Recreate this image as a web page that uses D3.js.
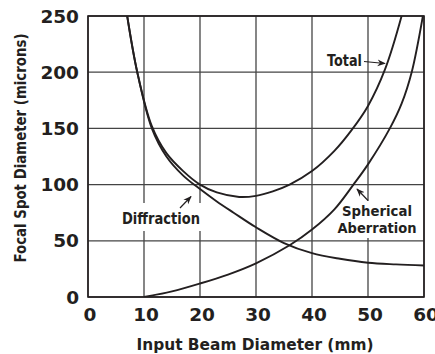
<!DOCTYPE html>
<html><head><meta charset="utf-8">
<script src="https://cdn.jsdelivr.net/npm/d3@7"></script>
<style>
html,body{margin:0;padding:0;background:#fff;}
svg{display:block;}
text{font-family:"DejaVu Sans",sans-serif;font-weight:bold;fill:#231f20;}
</style></head>
<body><svg id="c" width="435" height="354"></svg>
<script>
// ---- data ----
const xTicks = [0, 10, 20, 30, 40, 50, 60];
const yTicks = [0, 50, 100, 150, 200, 250];
const totalD = [7, 8.8, 11.4, 14, 17, 20, 23, 27, 30, 33, 36, 40, 44, 47, 50, 53, 56];
const totalV = [250, 200, 152, 128, 112, 100, 93, 89, 90, 94, 100, 112, 130, 148, 170, 202, 250];
const diffD = [7, 8.8, 11.4, 14, 17, 20, 23, 26, 30, 35, 40, 45, 50, 55, 60];
const diffV = [250, 200, 150, 125, 108, 96, 85, 75, 62, 48, 39, 34, 30.5, 29, 28];
const spherD = [10, 15, 20, 25, 30, 36, 40, 44, 47.4, 50, 53.9, 56, 57.8, 59.8];
const spherV = [0, 5, 12, 20, 30, 46, 60, 78, 100, 118, 150, 172, 200, 250];
const xTitle = "Input Beam Diameter (mm)";
const yTitle = "Focal Spot Diameter (microns)";

const svg = d3.select("#c");
const m = {left: 88, top: 16, right: 424, bottom: 297};
const x = d3.scaleLinear().domain([0, 60]).range([m.left, m.right]);
const y = d3.scaleLinear().domain([0, 250]).range([m.bottom, m.top]);

const defs = svg.append("defs");
defs.append("clipPath").attr("id", "clip").append("rect")
  .attr("x", m.left).attr("y", m.top).attr("width", m.right - m.left).attr("height", m.bottom - m.top);
defs.append("marker").attr("id", "arr").attr("viewBox", "0 0 10 10").attr("refX", 9).attr("refY", 5)
  .attr("markerWidth", 7).attr("markerHeight", 7).attr("orient", "auto-start-reverse")
  .append("path").attr("d", "M0,1 L10,5 L0,9 L3,5 Z").attr("fill", "#231f20");

// grid
const grid = svg.append("g");
grid.selectAll("line.v").data(xTicks).join("line")
  .attr("x1", d => x(d)).attr("x2", d => x(d)).attr("y1", m.top).attr("y2", m.bottom)
  .attr("stroke", "#444").attr("stroke-width", 1.3);
grid.selectAll("line.h").data(yTicks).join("line")
  .attr("x1", m.left).attr("x2", m.right).attr("y1", d => y(d)).attr("y2", d => y(d))
  .attr("stroke", "#444").attr("stroke-width", 1.3);
svg.append("rect").attr("x", m.left).attr("y", m.top).attr("width", m.right - m.left).attr("height", m.bottom - m.top)
  .attr("fill", "none").attr("stroke", "#231f20").attr("stroke-width", 1.6);

// label backgrounds
svg.append("rect").attr("x", 117).attr("y", 203).attr("width", 88).attr("height", 28).attr("fill", "#fff");
svg.append("rect").attr("x", 334).attr("y", 201).attr("width", 88).attr("height", 37).attr("fill", "#fff");

// curves
const line = d3.line().x(d => x(d[0])).y(d => y(d[1])).curve(d3.curveCatmullRom.alpha(0.5));
const curves = svg.append("g").attr("clip-path", "url(#clip)");
[[totalD, totalV], [diffD, diffV], [spherD, spherV]].forEach(([ds, vs]) => {
  curves.append("path").datum(ds.map((d, i) => [d, vs[i]])).attr("d", line)
    .attr("fill", "none").attr("stroke", "#231f20").attr("stroke-width", 1.9);
});

// axis tick labels
svg.append("g").selectAll("text").data(xTicks).join("text")
  .attr("x", d => x(d) + 2).attr("y", 321).attr("text-anchor", "middle")
  .attr("font-size", 18.5).text(d => d);
svg.append("g").selectAll("text").data(yTicks).join("text")
  .attr("x", 79).attr("y", d => y(d)).attr("dy", "0.36em").attr("text-anchor", "end")
  .attr("font-size", 18.5).text(d => d);

// axis titles
svg.append("text").attr("x", 255).attr("y", 350).attr("text-anchor", "middle")
  .attr("font-size", 15).attr("textLength", 237).attr("lengthAdjust", "spacingAndGlyphs").text(xTitle);
svg.append("text").attr("transform", "translate(26,148) rotate(-90)").attr("text-anchor", "middle")
  .attr("font-size", 15).attr("textLength", 229).attr("lengthAdjust", "spacingAndGlyphs").text(yTitle);

// annotations
const ann = svg.append("g");
ann.append("text").attr("x", 327).attr("y", 66).attr("font-size", 15)
  .attr("textLength", 35).attr("lengthAdjust", "spacingAndGlyphs").text("Total");
ann.append("line").attr("x1", 364).attr("y1", 61.5).attr("x2", 385).attr("y2", 63.5)
  .attr("stroke", "#231f20").attr("stroke-width", 1.2).attr("marker-end", "url(#arr)");
ann.append("text").attr("x", 122).attr("y", 224).attr("font-size", 15)
  .attr("textLength", 78).attr("lengthAdjust", "spacingAndGlyphs").text("Diffraction");
ann.append("line").attr("x1", 180).attr("y1", 208).attr("x2", 191).attr("y2", 196.5)
  .attr("stroke", "#231f20").attr("stroke-width", 1.2).attr("marker-end", "url(#arr)");
ann.append("text").attr("x", 342).attr("y", 216).attr("font-size", 14.5)
  .attr("textLength", 70).attr("lengthAdjust", "spacingAndGlyphs").text("Spherical");
ann.append("text").attr("x", 337.5).attr("y", 232.5).attr("font-size", 14.5)
  .attr("textLength", 79).attr("lengthAdjust", "spacingAndGlyphs").text("Aberration");
ann.append("line").attr("x1", 368).attr("y1", 200.5).attr("x2", 357).attr("y2", 189)
  .attr("stroke", "#231f20").attr("stroke-width", 1.2).attr("marker-end", "url(#arr)");
</script></body></html>
